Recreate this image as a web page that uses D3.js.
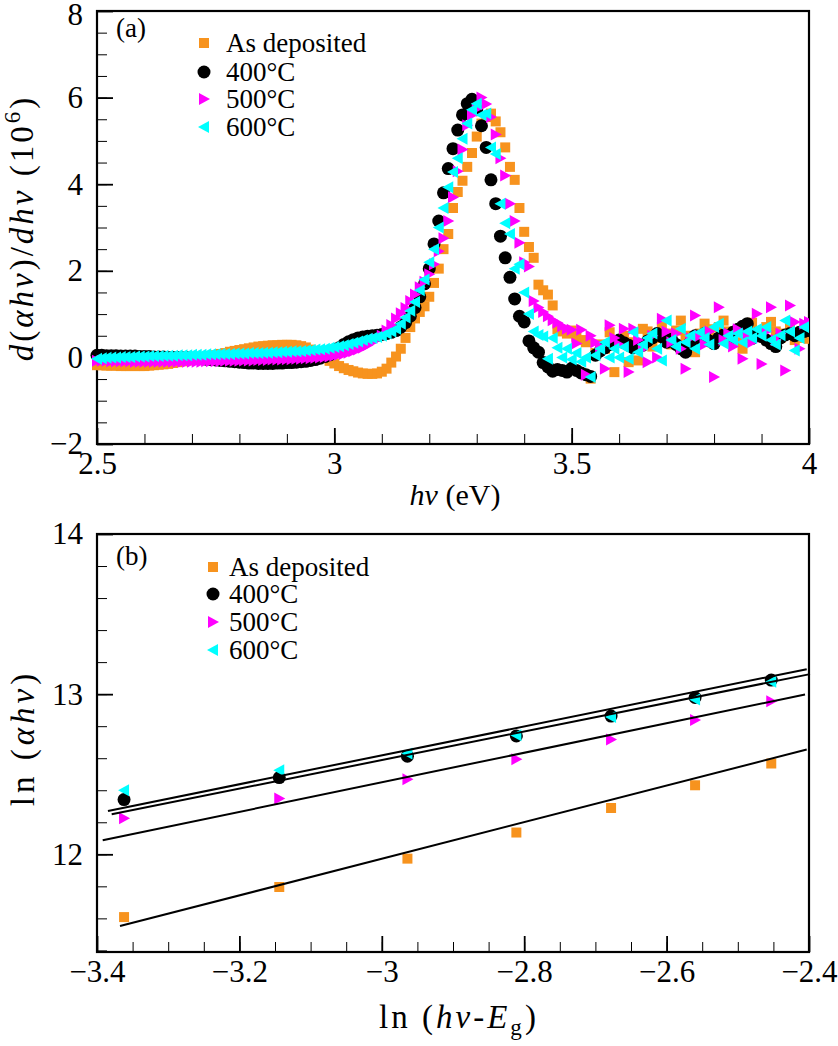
<!DOCTYPE html>
<html><head><meta charset="utf-8">
<script src="https://cdn.jsdelivr.net/npm/d3@7"></script>
<style>body{margin:0;background:#fff} text{font-family:"Liberation Serif","Times New Roman",serif;fill:#000}</style>
</head><body><svg id="c" width="838" height="1046"></svg>
<script>
// ---------- Panel (a) data ----------
const energy = [
2.50,2.51,2.52,2.53,2.54,2.55,2.56,2.57,2.58,2.59,
2.60,2.61,2.62,2.63,2.64,2.65,2.66,2.67,2.68,2.69,
2.70,2.71,2.72,2.73,2.74,2.75,2.76,2.77,2.78,2.79,
2.80,2.81,2.82,2.83,2.84,2.85,2.86,2.87,2.88,2.89,
2.90,2.91,2.92,2.93,2.94,2.95,2.96,2.97,2.98,2.99,
3.00,3.01,3.02,3.03,3.04,3.05,3.06,3.07,3.08,3.09,
3.10,3.11,3.12,3.13,3.14,3.15,3.16,3.17,3.18,3.19,
3.20,3.21,3.22,3.23,3.24,3.25,3.26,3.27,3.28,3.29,
3.30,3.31,3.32,3.33,3.34,3.35,3.36,3.37,3.38,3.39,
3.40,3.41,3.42,3.43,3.44,3.45,3.46,3.47,3.48,3.49,
3.50,3.51,3.52,3.53,3.54,3.55,3.56,3.57,3.58,3.59,
3.60,3.61,3.62,3.63,3.64,3.65,3.66,3.67,3.68,3.69,
3.70,3.71,3.72,3.73,3.74,3.75,3.76,3.77,3.78,3.79,
3.80,3.81,3.82,3.83,3.84,3.85,3.86,3.87,3.88,3.89,
3.90,3.91,3.92,3.93,3.94,3.95,3.96,3.97,3.98,3.99,
4.00];
const derivAsDeposited = [
-0.18,-0.18,-0.19,-0.19,-0.19,-0.20,-0.20,-0.20,-0.20,-0.20,
-0.20,-0.19,-0.18,-0.17,-0.16,-0.15,-0.13,-0.11,-0.09,-0.07,
-0.05,-0.03,-0.01,0.01,0.03,0.05,0.08,0.10,0.13,0.15,
0.17,0.19,0.21,0.23,0.25,0.26,0.27,0.28,0.28,0.29,
0.29,0.29,0.28,0.26,0.23,0.18,0.12,0.05,-0.02,-0.08,
-0.14,-0.20,-0.25,-0.29,-0.32,-0.35,-0.37,-0.38,-0.38,-0.37,
-0.33,-0.26,-0.12,0.02,0.20,0.45,0.70,0.90,1.05,1.18,
1.40,1.72,2.05,2.50,2.85,3.45,3.82,4.08,4.40,4.72,
5.10,5.40,5.55,5.63,5.45,5.20,4.85,4.40,4.10,3.45,
2.90,2.55,2.30,1.68,1.55,1.45,1.20,0.65,0.60,0.55,
0.62,0.48,0.40,0.35,-0.49,0.10,0.30,0.20,0.58,-0.34,
0.40,0.50,-0.11,0.35,-0.07,0.66,0.60,0.25,0.45,0.70,
0.55,0.30,0.62,0.85,0.50,0.40,0.12,0.55,0.78,0.65,
0.45,0.70,0.85,0.60,0.50,0.35,0.20,0.62,0.80,0.55,
0.50,0.70,0.82,0.60,0.45,0.55,0.70,0.40,0.55,0.45,
0.43];
const deriv400 = [
0.05,0.05,0.04,0.04,0.04,0.03,0.03,0.03,0.03,0.02,
0.02,0.02,0.01,0.01,0.01,0.00,0.00,0.00,-0.01,-0.01,
-0.02,-0.02,-0.03,-0.04,-0.05,-0.06,-0.07,-0.08,-0.09,-0.10,
-0.11,-0.12,-0.13,-0.13,-0.14,-0.14,-0.14,-0.14,-0.13,-0.13,
-0.12,-0.12,-0.11,-0.10,-0.09,-0.07,-0.05,-0.02,0.02,0.06,
0.12,0.22,0.30,0.36,0.41,0.45,0.47,0.49,0.50,0.51,
0.53,0.55,0.58,0.62,0.70,0.80,0.95,1.15,1.40,1.70,
2.05,2.62,3.15,3.80,4.36,4.82,5.25,5.60,5.86,5.96,
5.72,5.35,4.85,4.10,3.55,2.80,2.30,1.85,1.35,0.95,
0.82,0.38,0.22,0.12,-0.12,-0.22,-0.32,-0.28,-0.30,-0.34,
-0.25,-0.30,-0.36,-0.40,-0.44,0.05,0.15,0.22,0.30,0.36,
0.40,0.34,0.28,0.22,0.30,0.28,0.38,0.45,0.55,0.48,
0.35,0.42,0.30,0.20,0.12,0.35,0.50,0.42,0.55,0.38,
0.32,0.45,0.52,0.40,0.58,0.65,0.72,0.78,0.44,0.55,
0.48,0.40,0.32,0.25,0.45,0.52,0.55,0.50,0.58,0.60,
0.62];
const deriv500 = [
-0.08,-0.08,-0.08,-0.09,-0.09,-0.09,-0.09,-0.09,-0.10,-0.10,
-0.10,-0.10,-0.10,-0.10,-0.10,-0.10,-0.10,-0.10,-0.10,-0.10,
-0.10,-0.10,-0.10,-0.09,-0.09,-0.09,-0.09,-0.08,-0.08,-0.08,
-0.08,-0.07,-0.07,-0.07,-0.06,-0.06,-0.06,-0.05,-0.05,-0.05,
-0.04,-0.04,-0.03,-0.03,-0.02,-0.02,-0.01,0.00,0.01,0.02,
0.04,0.06,0.08,0.11,0.14,0.18,0.22,0.28,0.35,0.42,
0.50,0.62,0.75,0.90,1.02,1.14,1.30,1.45,1.62,1.75,
1.92,2.15,2.45,2.75,3.15,3.70,4.30,4.80,5.36,5.60,
5.74,6.00,5.85,5.55,5.15,4.60,4.20,3.55,3.15,2.65,
2.20,2.10,1.30,1.15,1.05,0.95,0.86,0.80,0.72,0.66,
0.64,0.32,0.64,-0.40,0.50,0.35,0.25,-0.26,0.74,0.45,
0.30,0.66,-0.34,0.66,0.40,0.20,-0.11,0.50,0.00,0.89,
0.60,0.35,0.55,0.20,-0.26,0.45,0.97,0.50,0.30,0.60,
-0.45,1.16,0.40,0.55,0.25,0.65,-0.03,0.50,0.35,1.01,
-0.15,0.60,1.16,0.40,0.55,-0.30,1.20,0.82,0.20,0.78,
0.82];
const deriv600 = [
-0.03,-0.02,-0.01,0.00,0.00,0.01,0.01,0.01,0.02,0.02,
0.02,0.03,0.03,0.03,0.04,0.04,0.04,0.05,0.05,0.05,
0.06,0.06,0.06,0.07,0.07,0.07,0.08,0.08,0.08,0.09,
0.09,0.09,0.10,0.10,0.10,0.11,0.11,0.12,0.12,0.13,
0.13,0.14,0.14,0.15,0.16,0.17,0.18,0.19,0.20,0.22,
0.24,0.26,0.28,0.31,0.34,0.37,0.40,0.43,0.45,0.47,
0.50,0.55,0.60,0.66,0.78,0.92,1.08,1.28,1.55,1.80,
2.20,2.50,3.00,3.45,3.93,4.28,4.60,5.05,5.40,5.72,
5.86,5.60,5.63,4.85,4.70,3.55,3.10,2.85,2.05,2.15,
1.50,1.00,0.60,0.52,0.48,-0.03,0.45,0.22,0.00,0.20,
-0.05,0.10,-0.10,0.00,-0.45,0.05,0.20,0.35,0.00,0.20,
0.00,0.24,-0.03,0.58,0.12,0.30,0.45,0.55,0.20,-0.07,
0.85,0.40,0.25,0.66,0.35,0.50,0.20,0.58,0.45,0.30,
0.70,0.78,0.32,0.50,0.40,0.55,0.35,0.60,0.45,0.65,
0.50,0.70,0.40,0.30,0.51,0.85,0.60,0.16,0.45,0.70,
0.65];

// ---------- Panel (b) data ----------
const lnX = [-3.362,-3.144,-2.964,-2.811,-2.678,-2.560,-2.453];
const lnAsDeposited = [11.608,11.796,11.973,12.136,12.289,12.431,12.567];
const ln400 = [12.342,12.479,12.613,12.739,12.863,12.979,13.088];
const ln500 = [12.225,12.348,12.469,12.594,12.717,12.838,12.956];
const ln600 = [12.400,12.525,12.629,12.744,12.858,12.967,13.077];
// fitted lines: start / end points in data units (as deposited, 400, 500, 600)
const fitX0 = [-3.3677,-3.3794,-3.3920,-3.3846];
const fitY0 = [11.552,12.250,12.088,12.271];
const fitX1 = [-2.4032,-2.3986,-2.4056,-2.4032];
const fitY1 = [12.654,13.125,12.998,13.156];

// ---------- series styling and ticks ----------
const seriesNames = ["As deposited","400°C","500°C","600°C"];
const seriesColors = ["#f7931e","#000000","#ff00ff","#00ffff"];
const seriesShapes = ["square","circle","right","left"];

const aXTicks = [2.5,3,3.5,4], aXLabels = ["2.5","3","3.5","4"];
const aYTicks = [-2,0,2,4,6,8], aYLabels = ["−2","0","2","4","6","8"];
const bXTicks = [-3.4,-3.2,-3,-2.8,-2.6,-2.4], bXLabels = ["−3.4","−3.2","−3","−2.8","−2.6","−2.4"];
const bYTicks = [12,13,14], bYLabels = ["12","13","14"];

const svg = d3.select("#c");
const TICKFONT = 31, LEGFONT = 27;

const shapePath = {
  square: "M-5,-5H5V5H-5Z",
  circle: "M6.5,0A6.5,6.5 0 1 1 -6.5,0A6.5,6.5 0 1 1 6.5,0Z",
  right: "M-5,-6L6,0L-5,6Z",
  left: "M5,-6L-6,0L5,6Z"
};

function panel(cfg) {
  const {x, y, xTicks, xLabels, yTicks, yLabels, xMinor, yMinor} = cfg;
  const g = svg.append("g");
  const [x0, x1] = x.range(), [y0, y1] = y.range();
  g.append("g").attr("transform", `translate(0,${y0})`)
    .call(d3.axisBottom(x).tickValues(x.ticks(xMinor)).tickSize(-10).tickFormat(""))
    .call(s => { s.select(".domain").remove(); s.selectAll("line").attr("stroke-width", 1); });
  g.append("g").attr("transform", `translate(${x0},0)`)
    .call(d3.axisLeft(y).tickValues(y.ticks(yMinor)).tickSize(-10).tickFormat(""))
    .call(s => { s.select(".domain").remove(); s.selectAll("line").attr("stroke-width", 1); });
  g.append("g").attr("transform", `translate(0,${y0})`)
    .call(d3.axisBottom(x).tickValues(xTicks).tickSize(-16).tickPadding(8)
      .tickFormat((d, i) => xLabels[i]))
    .call(s => {
      s.select(".domain").remove();
      s.selectAll("line").attr("stroke-width", 1.8);
      s.selectAll("text").attr("font-size", TICKFONT).attr("font-family", null);
    });
  g.append("g").attr("transform", `translate(${x0},0)`)
    .call(d3.axisLeft(y).tickValues(yTicks).tickSize(-16).tickPadding(14)
      .tickFormat((d, i) => yLabels[i]))
    .call(s => {
      s.select(".domain").remove();
      s.selectAll("line").attr("stroke-width", 1.8);
      s.selectAll("text").attr("font-size", TICKFONT).attr("font-family", null)
        .attr("dy", (d, i) => (i === yTicks.length - 1 && y1 < 20) ? "0.42em" : "0.32em");
    });
  g.append("rect").attr("x", x0).attr("y", y1).attr("width", x1 - x0).attr("height", y0 - y1)
    .attr("fill", "none").attr("stroke", "#000").attr("stroke-width", 2.2);
  return g;
}

function legend(markerX, textX, rowY) {
  const lg = svg.append("g");
  seriesNames.forEach((name, i) => {
    lg.append("path").attr("d", shapePath[seriesShapes[i]])
      .attr("transform", `translate(${markerX},${rowY[i]})`).attr("fill", seriesColors[i]);
    lg.append("text").attr("x", textX).attr("y", rowY[i]).attr("dy", "0.33em")
      .attr("font-size", LEGFONT).text(name);
  });
}

function richText(x, y, rotate, parts, size, spacing) {
  const t = svg.append("text").attr("transform", `translate(${x},${y})${rotate ? " rotate(-90)" : ""}`)
    .attr("text-anchor", "middle").attr("font-size", size)
    .style("letter-spacing", (spacing || 0) + "px");
  parts.forEach(p => {
    const ts = t.append("tspan").text(p.t);
    if (p.i) ts.attr("font-style", "italic");
    if (p.s) ts.attr("font-size", size * 0.7);
    if (p.dy) ts.attr("dy", p.dy);
  });
  return t;
}

// ===== Panel (a) =====
const xa = d3.scaleLinear().domain([2.5, 4]).range([97, 809]);
const ya = d3.scaleLinear().domain([-2, 8]).range([444, 11]);
panel({x: xa, y: ya, xTicks: aXTicks, xLabels: aXLabels, yTicks: aYTicks, yLabels: aYLabels, xMinor: 15, yMinor: 20});

const derivSeries = [derivAsDeposited, deriv400, deriv500, deriv600];
svg.append("clipPath").attr("id", "clipA").append("rect")
  .attr("x", 89).attr("y", 11).attr("width", 720).attr("height", 433);
derivSeries.forEach((vals, si) => {
  svg.append("g").attr("clip-path", "url(#clipA)").selectAll("path")
    .data(vals.map((v, i) => [energy[i], v]))
    .join("path")
    .attr("d", shapePath[seriesShapes[si]])
    .attr("transform", d => `translate(${xa(d[0])},${ya(d[1])})`)
    .attr("fill", seriesColors[si]);
});
svg.append("text").attr("x", 116).attr("y", 37).attr("font-size", 27).text("(a)");
legend(204, 226, [43, 72, 99, 127]);

richText(455, 505, false, [{t: "hν", i: true}, {t: " (eV)"}], 30, 0);
richText(33, 228, true, [
  {t: "d", i: true}, {t: "("}, {t: "αhν", i: true}, {t: ")/"}, {t: "dhν", i: true},
  {t: " (10"}, {t: "6", s: true, dy: -13}, {t: ")", dy: 13}], 33, 3);

// ===== Panel (b) =====
const xb = d3.scaleLinear().domain([-3.4, -2.4]).range([97, 809]);
const yb = d3.scaleLinear().domain([11.39, 14]).range([952, 534]);
panel({x: xb, y: yb, xTicks: bXTicks, xLabels: bXLabels, yTicks: bYTicks, yLabels: bYLabels, xMinor: 20, yMinor: 15});

const lnSeries = [lnAsDeposited, ln400, ln500, ln600];
lnSeries.forEach((vals, si) => {
  svg.append("g").selectAll("path")
    .data(vals.map((v, i) => [lnX[i], v]))
    .join("path")
    .attr("d", shapePath[seriesShapes[si]])
    .attr("transform", d => `translate(${xb(d[0])},${yb(d[1])})`)
    .attr("fill", seriesColors[si]);
});
fitX0.forEach((_, i) => {
  svg.append("line")
    .attr("x1", xb(fitX0[i])).attr("y1", yb(fitY0[i]))
    .attr("x2", xb(fitX1[i])).attr("y2", yb(fitY1[i]))
    .attr("stroke", "#000").attr("stroke-width", 2);
});
svg.append("text").attr("x", 116).attr("y", 565).attr("font-size", 27).text("(b)");
legend(213, 229, [567, 594, 622, 650]);

richText(459, 1028, false, [{t: "ln ("}, {t: "hν", i: true}, {t: "-"}, {t: "E", i: true},
  {t: "g", s: true, dy: 7}, {t: ")", dy: -7}], 33, 3);
richText(34, 738, true, [{t: "ln ("}, {t: "αhν", i: true}, {t: ")"}], 33, 4);
</script>
</body></html>
